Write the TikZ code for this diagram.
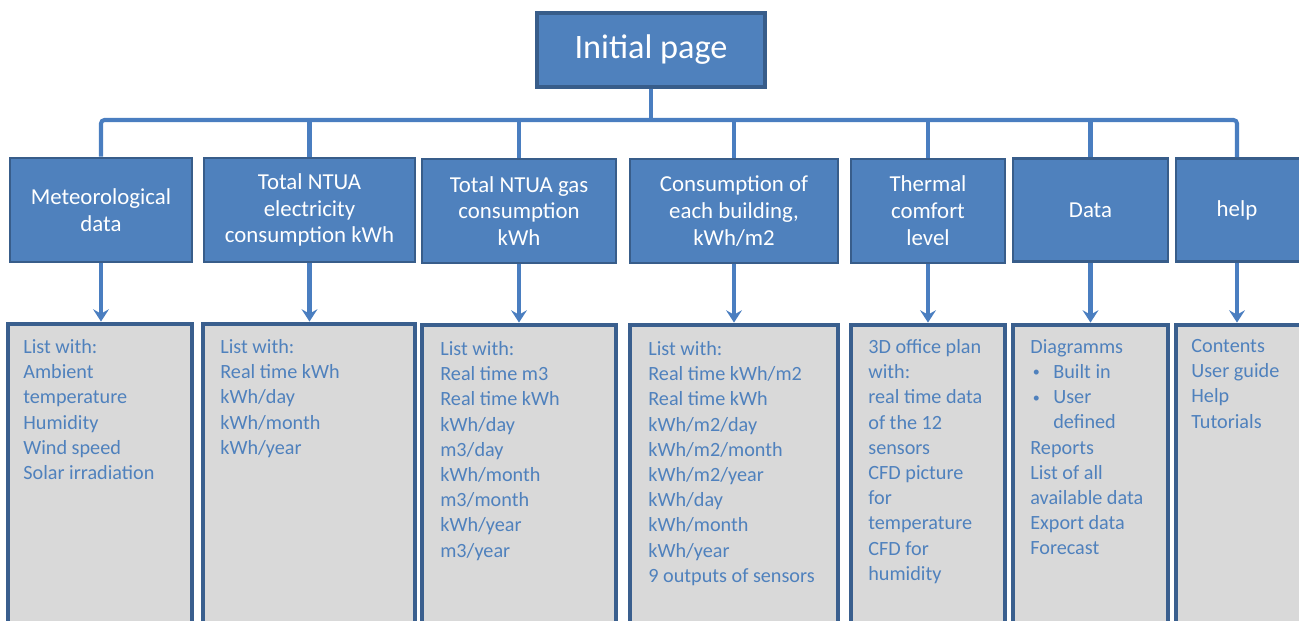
\documentclass[tikz,border=0pt]{standalone}
\usepackage{fontspec}
\setmainfont{Carlito}
\usetikzlibrary{arrows.meta}
\definecolor{boxblue}{HTML}{4F81BD}
\definecolor{boxedge}{HTML}{385D8A}
\definecolor{listgray}{HTML}{D9D9D9}
\definecolor{listedge}{HTML}{3A5F8E}
\definecolor{listtext}{HTML}{4F81BD}
\definecolor{connblue}{HTML}{4A7EC0}
\newcommand{\smbul}{\makebox[0.46cm][l]{\hspace{0.05cm}\raisebox{0.03cm}{\fontsize{8}{8}\selectfont\textbullet}}}
\tikzset{
  topbox/.style={draw=boxedge, line width=1.6pt, fill=boxblue, text=white,
    align=center, inner sep=0pt, font=\fontsize{13}{15.3}\selectfont},
  rootbox/.style={topbox, line width=2pt, font=\fontsize{19.5}{23}\selectfont},
  listbox/.style={draw=listedge, line width=2.8pt, fill=listgray, inner sep=0pt},
  listtxt/.style={anchor=north west, align=left, inner sep=0pt, text=listtext,
    font=\fontsize{11.5}{14.35}\selectfont},
  conn/.style={draw=connblue, line width=2.3pt},
  arrowconn/.style={conn, -{Stealth[length=7pt,width=9pt,inset=2.5pt]}}
}
\begin{document}
\begin{tikzpicture}[x=0.02cm,y=-0.02cm]
\useasboundingbox (0,0) rectangle (1299,621);
% root
\node[rootbox, minimum width=4.56cm, minimum height=1.48cm] (root) at (651,50) {Initial page};
% top boxes
\node[topbox, minimum width=3.64cm, minimum height=2.08cm] (t1) at (101,210) {Meteorological\\data};
\node[topbox, minimum width=4.22cm, minimum height=2.08cm] (t2) at (309.5,210) {Total NTUA\\electricity\\consumption kWh};
\node[topbox, minimum width=3.88cm, minimum height=2.08cm] (t3) at (519,211) {Total NTUA gas\\consumption\\kWh};
\node[topbox, minimum width=4.16cm, minimum height=2.08cm] (t4) at (734,211) {Consumption of\\each building,\\kWh/m2};
\node[topbox, minimum width=3.08cm, minimum height=2.08cm] (t5) at (928,211) {Thermal\\comfort\\level};
\node[topbox, minimum width=3.10cm, minimum height=2.06cm] (t6) at (1090.5,210) {Data};
\node[topbox, minimum width=2.70cm, minimum height=2.06cm] (t7h) at (1243.5,210) {};
\node[font=\fontsize{13}{15.3}\selectfont, text=white, inner sep=0pt] (t7) at (1237,210) {help};
% bottom boxes
\node[listbox, minimum width=3.68cm, minimum height=6.32cm] (b1) at (100,482) {};
\node[listbox, minimum width=4.24cm, minimum height=6.32cm] (b2) at (309,482) {};
\node[listbox, minimum width=3.88cm, minimum height=6.32cm] (b3) at (519,483) {};
\node[listbox, minimum width=4.16cm, minimum height=6.32cm] (b4) at (734,483) {};
\node[listbox, minimum width=3.08cm, minimum height=6.32cm] (b5) at (928,483) {};
\node[listbox, minimum width=3.10cm, minimum height=6.32cm] (b6) at (1090.5,483) {};
\node[listbox, minimum width=2.70cm, minimum height=6.32cm] (b7) at (1243.5,483) {};
% list texts
\node[listtxt] (l1) at (23,339) {List with:\\Ambient\\temperature\\Humidity\\Wind speed\\Solar irradiation};
\node[listtxt] (l2) at (220,339) {List with:\\Real time kWh\\kWh/day\\kWh/month\\kWh/year};
\node[listtxt] (l3) at (440,341) {List with:\\Real time m3\\Real time kWh\\kWh/day\\m3/day\\kWh/month\\m3/month\\kWh/year\\m3/year};
\node[listtxt] (l4) at (648,341) {List with:\\Real time kWh/m2\\Real time kWh\\kWh/m2/day\\kWh/m2/month\\kWh/m2/year\\kWh/day\\kWh/month\\kWh/year\\9 outputs of sensors};
\node[listtxt] (l5) at (868,339) {3D office plan\\with:\\real time data\\of the 12\\sensors\\CFD picture\\for\\temperature\\CFD for\\humidity};
\node[listtxt] (l6) at (1030,339) {Diagramms\\\smbul Built in\\\smbul User\\\hspace{0.46cm}defined\\Reports\\List of all\\available data\\Export data\\Forecast};
\node[listtxt] (l7) at (1191,339) {Contents\\User guide\\Help\\Tutorials};
% bus
\coordinate (busL) at (101,120);
\coordinate (busR) at (1237,120);
\draw[conn] (root.south) -- (root.south |- busL);
\draw[conn, rounded corners=2pt] (t1.north) -- (t1.north |- busL) -- (busR) -- (t7 |- t7h.north);
\foreach \n in {t2,t3,t4,t5,t6} \draw[conn] (\n.north) -- (\n.north |- busL);
% arrows
\foreach \t/\b in {t1/b1,t2/b2,t3/b3,t4/b4,t5/b5,t6/b6}
  \draw[arrowconn] (\t.south) -- (\t.south |- \b.north);
\draw[arrowconn] (t7 |- t7h.south) -- (t7 |- b7.north);
\end{tikzpicture}
\end{document}
